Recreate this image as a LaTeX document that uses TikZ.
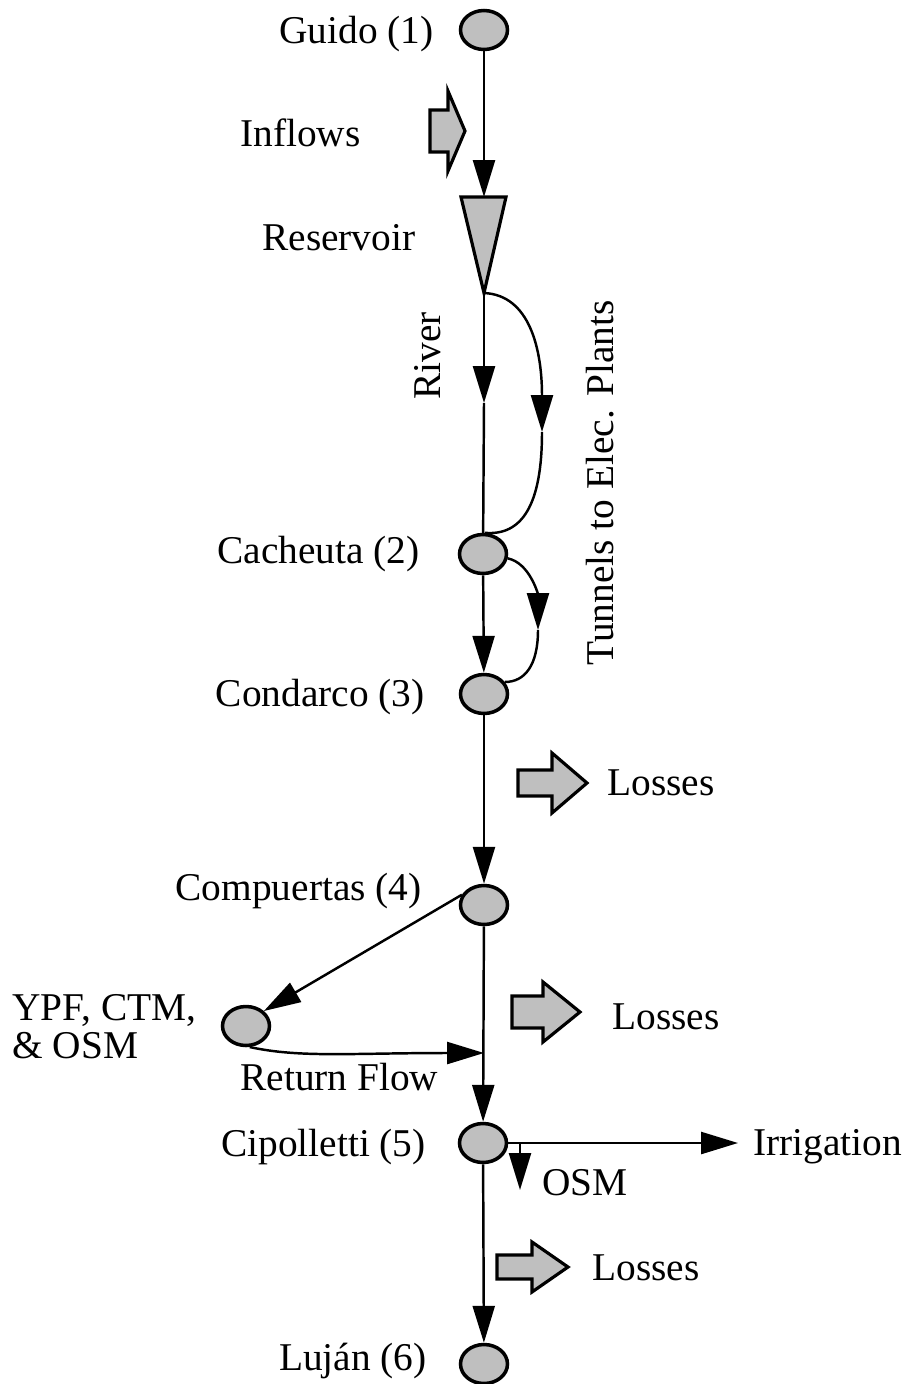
\documentclass[tikz,border=0pt]{standalone}
\usepackage{fontspec}
\setmainfont{Liberation Serif}
\usepackage{tikz}
\usetikzlibrary{arrows.meta,shapes.geometric}

\newcommand{\lblfont}{\fontsize{22.4}{21.5}\selectfont}
\tikzset{
  site/.style={ellipse, draw, line width=2pt, fill=black!25, minimum width=0.94cm, minimum height=0.78cm, inner sep=0pt},
  lbl/.style={font=\lblfont, inner sep=0pt},
  pipe/.style={line width=1.4pt},
  flow/.style={pipe, -{Triangle[length=21pt,width=12.5pt]}},
  blockarrow/.style={draw, line width=1.8pt, fill=black!25, line join=miter},
}

\begin{document}
\begin{tikzpicture}[x=0.02cm, y=-0.02cm]
\useasboundingbox (0,0) rectangle (908,1384);

% sites on the river
\node[site] (guido) at (484,30) {};
\node[site] (cach) at (483,554) {};
\node[site] (cond) at (484,694) {};
\node[site] (comp) at (484,905) {};
\node[site] (cip) at (483,1143) {};
\node[site] (lujan) at (484,1364) {};
\node[site] (ypf) at (246,1026) {};

\node[lbl, anchor=base east] (guidolbl) at (434,43) {Guido (1)};
\node[lbl, anchor=base west] (inflbl) at (240,146) {Inflows};
\node[lbl, anchor=base west] (reslbl) at (262,250) {Reservoir};
\node[lbl, rotate=90] (riverlbl) at (428,356) {River};
\node[lbl, rotate=90] (tunlbl) at (600,483) {Tunnels to Elec. Plants};
\node[lbl, anchor=base east] (cachlbl) at (420,563) {Cacheuta (2)};
\node[lbl, anchor=base east] (condlbl) at (425,706) {Condarco (3)};
\node[lbl, anchor=base east] (complbl) at (422,900) {Compuertas (4)};
\node[lbl, anchor=north west, align=left] (ypflbl) at (12,994) {YPF, CTM,\\ \& OSM};
\node[lbl, anchor=base west] (retlbl) at (240,1090) {Return Flow};
\node[lbl, anchor=base east] (ciplbl) at (426,1156) {Cipolletti (5)};
\node[lbl, anchor=base west] (irr) at (753,1155) {Irrigation};
\node[lbl, anchor=base west] (osmlbl) at (542,1195) {OSM};
\node[lbl, anchor=base east] (lujanlbl) at (427,1370) {Luj\'an (6)};
\node[lbl, anchor=base west] (loss1) at (607,795) {Losses};
\node[lbl, anchor=base west] (loss2) at (612,1029) {Losses};
\node[lbl, anchor=base west] (loss3) at (592,1280) {Losses};

% reservoir
\coordinate (restop) at (484,197);
\coordinate (restip) at (484,293);
\draw[blockarrow] (461,197) -- (506,197) -- (restip) -- cycle;

% inflow and loss arrows
\draw[blockarrow] (430,110) -- (448,110) -- (448,91) -- (465,131) -- (448,171) -- (448,152) -- (430,152) -- cycle;
\draw[blockarrow] (518,770) -- (552,770) -- (552,753) -- (587,783) -- (552,813) -- (552,796) -- (518,796) -- cycle;
\draw[blockarrow] (512,996) -- (543,996) -- (543,982) -- (580,1012) -- (543,1042) -- (543,1028) -- (512,1028) -- cycle;
\draw[blockarrow] (497,1255) -- (532,1255) -- (532,1242) -- (568,1267) -- (532,1292) -- (532,1279) -- (497,1279) -- cycle;

\draw[flow] (guido) -- (restop);

% river and tunnels
\coordinate (riverarr) at (484,403);
\draw[flow] (restip) -- (riverarr);
\draw[pipe] (riverarr) -- (cach);
\coordinate (tun1) at (542,432);
\draw[flow] (restip) .. controls (530,295) and (542,350) .. (tun1);
\draw[pipe] (tun1) .. controls (542,505) and (522,536) .. (cach.85);
\coordinate (tun2) at (538,630);
\draw[flow] (cach.-10) .. controls (530,563) and (538,595) .. (tun2);
\draw[pipe] (tun2) .. controls (538,665) and (525,682) .. (cond.30);
\draw[flow] (cach) -- (cond);

\draw[flow] (cond) -- (comp);
\coordinate (join) at (484,1053);
\draw[flow] (comp) -- (cip);
\draw[flow] (comp.155) -- (ypf.40);
\draw[flow] (ypf.-80) .. controls (300,1058) and (350,1053) .. (join);

\coordinate (irrend) at (738,1143);
\draw[flow] (cip) -- (irrend);
\coordinate (osmfork) at (520,1143);
\coordinate (osmend) at (520,1190);
\draw[flow] (osmfork) -- (osmend);
\draw[flow] (cip) -- (lujan);
\end{tikzpicture}
\end{document}
